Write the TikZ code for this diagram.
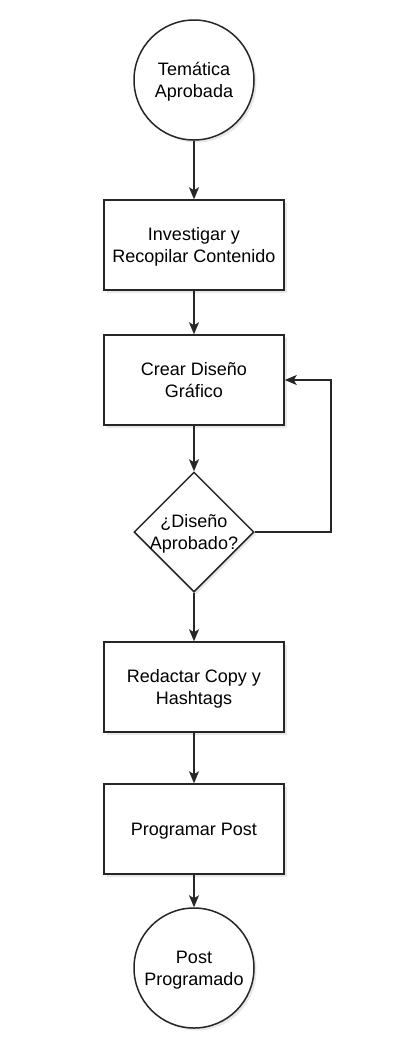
\documentclass[tikz,border=0pt]{standalone}
\usepackage{fontspec}
\setmainfont{Liberation Sans}
\usetikzlibrary{shapes.geometric,arrows.meta,shadows}
\tikzset{
  base/.style={draw=black!85, line width=1.5pt, fill=white, inner sep=0pt,
    font=\fontsize{18pt}{21.6pt}\selectfont, align=center, text depth=0pt,
    drop shadow={opacity=0.18, shadow xshift=2.5pt, shadow yshift=-2.5pt}},
  procbox/.style={base, rectangle, minimum width=180pt, minimum height=90pt},
  termcirc/.style={base, circle, minimum size=120pt},
  decis/.style={base, diamond, minimum width=120pt, minimum height=120pt},
  txt/.style={inner sep=0pt, font=\fontsize{18pt}{21.6pt}\selectfont, align=center, text depth=0pt},
  conn/.style={line width=1.5pt, draw=black!85, -{Stealth[length=12pt,width=10pt,inset=3pt]}}
}
\begin{document}
\begin{tikzpicture}[x=1pt,y=-1pt]
\useasboundingbox (0,0) rectangle (409,1047);
\node[termcirc] (start) at (194,80) {Temática\\Aprobada};
\node[procbox] (inv) at (194,245) {Investigar y\\Recopilar Contenido};
\node[procbox] (dis) at (194,380) {Crear Diseño\\Gráfico};
\node[decis] (dec) at (194,532) {};
\node[txt] (dect) at (dec) {¿Diseño\\Aprobado?};
\node[procbox] (red) at (194,687) {Redactar Copy y\\Hashtags};
\node[procbox] (prog) at (194,829) {Programar Post};
\node[termcirc] (end) at (194,968) {Post\\Programado};
\coordinate (loopc) at (331,380);
\draw[conn] (start) -- (inv);
\draw[conn] (inv) -- (dis);
\draw[conn] (dis) -- (dec);
\draw[conn] (dec.east) -| (loopc) -- (dis.east);
\draw[conn] (dec) -- (red);
\draw[conn] (red) -- (prog);
\draw[conn] (prog) -- (end);
\end{tikzpicture}
\end{document}
